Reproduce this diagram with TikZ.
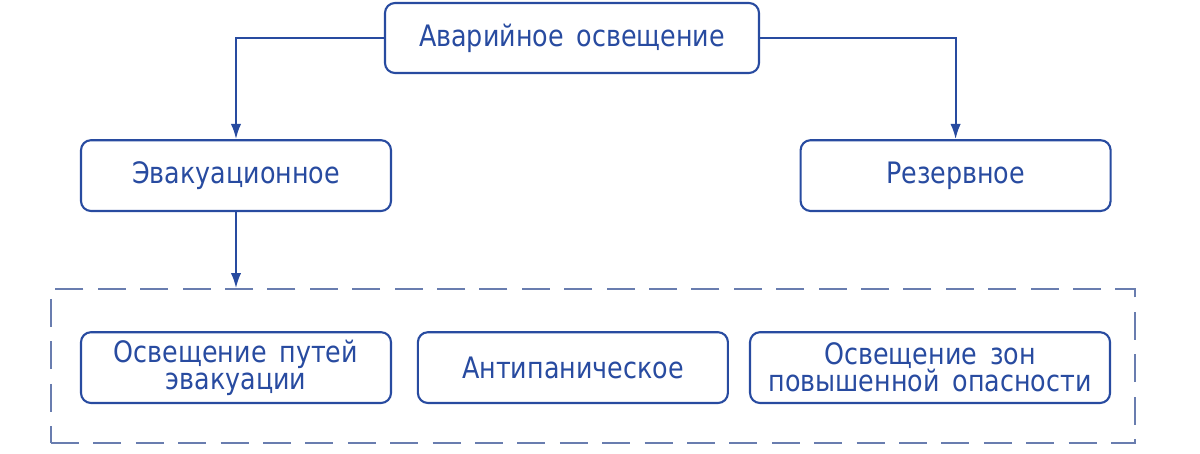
\documentclass[tikz,border=0pt]{standalone}
\usepackage{fontspec}
\setmainfont[FakeStretch=0.86,WordSpace=1.6]{DejaVu Sans}
\usepackage{tikz}
\usetikzlibrary{shapes,arrows.meta,positioning}
\definecolor{schblue}{RGB}{40,75,160}
\definecolor{grpblue}{RGB}{105,125,175}
\tikzstyle{block} = [rectangle, rounded corners=0.25cm, draw=schblue, line width=1.5pt, text=schblue, align=center, minimum height=1.77cm, font=\fontsize{21}{21}\selectfont]
\tikzstyle{arrow} = [draw=schblue, line width=1.5pt, -{Latex[length=0.38cm,width=0.26cm]}]
\tikzstyle{group} = [rectangle, draw=grpblue, line width=1.1pt, dash pattern=on 0.7cm off 0.36cm]

\begin{document}
\begin{tikzpicture}
        \useasboundingbox (0,0) rectangle (30,-11.35);
        \node (Avar) [block, minimum width=9.35cm, minimum height=1.75cm] at (14.3,-0.95) {Аварийное освещение};
        \node (Evak) [block, minimum width=7.75cm] at (5.9,-4.39) {Эвакуационное};
        \node (Rez) [block, minimum width=7.75cm] at (23.89,-4.39) {Резервное};

        \node (Grp) [group, minimum width=27.1cm, minimum height=3.85cm] at (14.825,-9.15) {};
        \node (Puti) [block, minimum width=7.75cm] at (5.9,-9.19) {Освещение путей\\[-2pt]эвакуации};
        \node (Anti) [block, minimum width=7.75cm, right=0.62cm of Puti] {Антипаническое};
        \node (Zony) [block, minimum width=9cm, right=0.5cm of Anti] {Освещение зон\\[-2pt]повышенной опасности};

        \path [arrow] (Avar.west) -| (Evak.north);
        \path [arrow] (Avar.east) -| (Rez.north);
        \path [arrow] (Evak.south) -- (Evak.south |- Grp.north);
    \end{tikzpicture}
\end{document}
